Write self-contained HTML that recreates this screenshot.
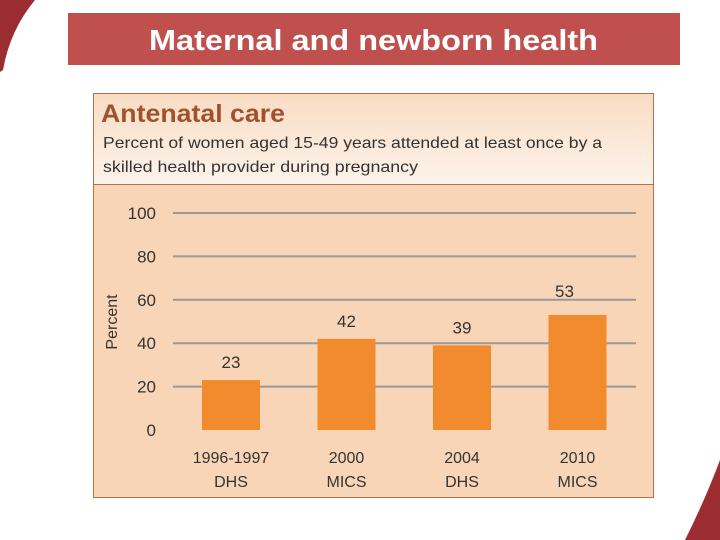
<!DOCTYPE html>
<html><head><meta charset="utf-8"><style>
body{margin:0;width:720px;height:540px;background:#fff;overflow:hidden;font-family:"Liberation Sans",sans-serif;position:relative}
</style></head><body>
<svg width="720" height="540" style="position:absolute;left:0;top:0">
<defs><linearGradient id="hg" x1="0" y1="0" x2="0" y2="1"><stop offset="0" stop-color="#f9dcc4"/><stop offset="1" stop-color="#fdf3ea"/></linearGradient></defs>
<path d="M0,0 L35,0 Q10,30 3,70 L0,72 Z" fill="#9b2d30"/>
<path d="M720,460 L720,540 L685,540 Q705,500 720,460 Z" fill="#9b2d30"/>
<rect x="68" y="13" width="612" height="52" fill="#c0504d"/>
<text x="149" y="50" textLength="449" lengthAdjust="spacingAndGlyphs" font-size="29" font-weight="bold" fill="#fff">Maternal and newborn health</text>
<rect x="93.5" y="93.5" width="560" height="404" fill="#f9d5b7" stroke="#b5714a"/>
<rect x="94" y="94" width="559" height="90" fill="url(#hg)"/>
<line x1="94" y1="184.5" x2="653" y2="184.5" stroke="#b5714a"/>
<text x="101" y="122" textLength="184" lengthAdjust="spacingAndGlyphs" font-size="25" font-weight="bold" fill="#a0522d">Antenatal care</text>
<text x="103" y="148" textLength="499" lengthAdjust="spacingAndGlyphs" font-size="16" fill="#333">Percent of women aged 15-49 years attended at least once by a</text>
<text x="103" y="172" textLength="315" lengthAdjust="spacingAndGlyphs" font-size="16" fill="#333">skilled health provider during pregnancy</text>
<text transform="translate(117,322) rotate(-90)" text-anchor="middle" font-size="16" fill="#333">Percent</text>
<g id="g"></g>
</svg>
<script>
const categories=["1996-1997|DHS","2000|MICS","2004|DHS","2010|MICS"];
const values=[23,42,39,53];
const ticks=[0,20,40,60,80,100];
const y=v=>430-v*2.17;
const x=i=>231+i*115.5;
const g=document.getElementById('g');
const ns='http://www.w3.org/2000/svg';
function mk(t,a){const e=document.createElementNS(ns,t);for(const k in a)e.setAttribute(k,a[k]);g.appendChild(e);return e;}
ticks.forEach(t=>{
 if(t>0){const l=mk('line',{x1:173,x2:636,y1:y(t),y2:y(t),stroke:'#999','stroke-width':2});
 
 }
 const tx=mk('text',{x:156,y:y(t)+6,'text-anchor':'end','font-size':17,fill:'#333'});tx.textContent=t;
 
 
});
values.forEach((v,i)=>{
 const b=mk('rect',{x:x(i)-29,y:y(v),width:58,height:430-y(v),fill:'#f28a2e'});
 
 
 const lb=mk('text',{x:x(i)+(i==3?-13:0),y:y(v)-(i==3?18:12),'text-anchor':'middle','font-size':17,fill:'#333'});lb.textContent=v;
 
 
 categories[i].split('|').forEach((s,j)=>{
  const c=mk('text',{x:x(i),y:463+j*24,'text-anchor':'middle','font-size':16,fill:'#333'});c.textContent=s;
  
  
 });
});
</script>
</body></html>
